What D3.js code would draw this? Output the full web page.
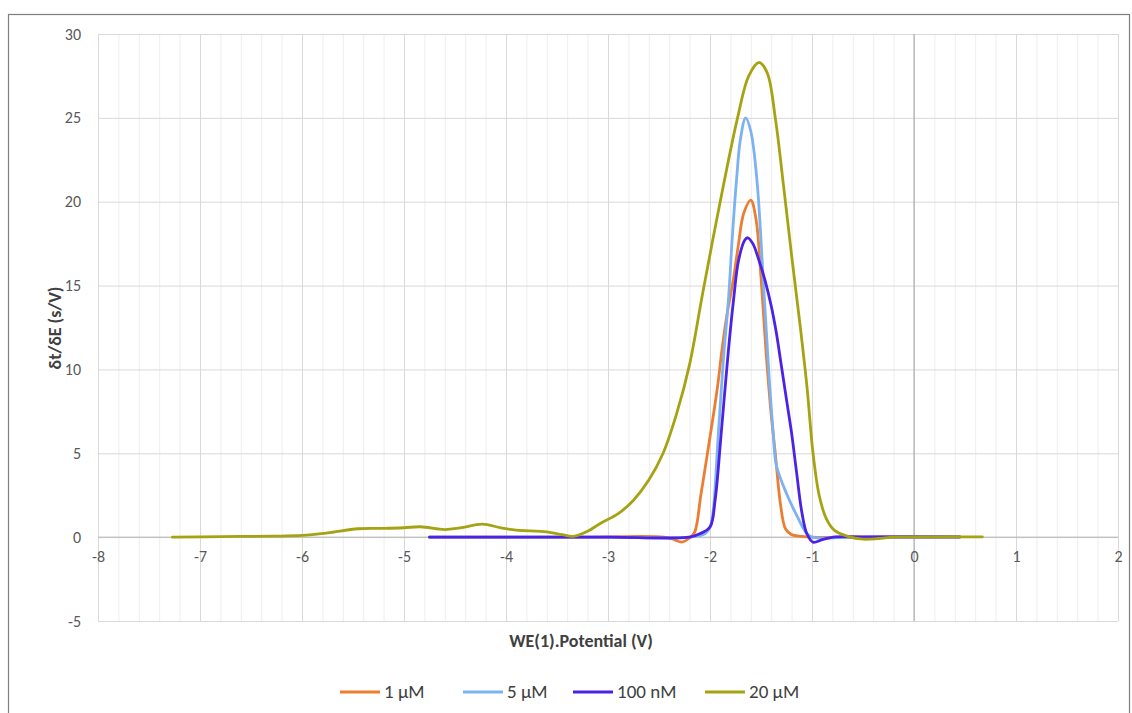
<!DOCTYPE html>
<html>
<head>
<meta charset="utf-8">
<script src="https://cdn.jsdelivr.net/npm/d3@7"></script>
<style>
  html, body { margin: 0; padding: 0; background: #fff; }
  svg { display: block; font-family: Carlito, Calibri, Lato, "Open Sans", sans-serif; }
</style>
</head>
<body>
<svg id="chart" width="1132" height="713"></svg>
<script>
// Derivative curves dt/dE versus working-electrode potential

const seriesNames = ["1 µM", "5 µM", "100 nM", "20 µM"];
const seriesColors = ["#ED7D31", "#7DB2F2", "#4B22E6", "#A6A313"];

const xTicks = [-8, -7, -6, -5, -4, -3, -2, -1, 0, 1, 2];
const yTicks = [-5, 0, 5, 10, 15, 20, 25, 30];

// 1 µM
const potential1uM = [-4.75, -4.0, -3.2, -2.45, -2.35, -2.28, -2.2, -2.15, -2.09, -2.03, -1.93, -1.88, -1.83, -1.77, -1.72, -1.67, -1.6, -1.55, -1.5, -1.45, -1.4, -1.36, -1.31, -1.26, -1.2, -1.1, -1.0, -0.5, 0.45];
const dtdE1uM      = [0, 0, 0, 0, -0.15, -0.3, -0.05, 0.3, 2.5, 4.8, 8.8, 11.3, 13.4, 15.4, 17.5, 19.3, 20.1, 19.0, 15.5, 11.0, 7.3, 5.0, 2.0, 0.5, 0.15, 0.05, 0, 0, 0];

// 5 µM
const potential5uM = [-4.75, -4.0, -3.0, -2.2, -2.05, -2.0, -1.97, -1.92, -1.87, -1.82, -1.78, -1.74, -1.7, -1.65, -1.6, -1.54, -1.47, -1.42, -1.38, -1.35, -1.25, -1.15, -1.05, -1.0, -0.5, 0.45];
const dtdE5uM      = [0, 0, 0, 0, 0.2, 0.6, 1.5, 6.0, 10.5, 14.1, 18.0, 21.3, 23.8, 25.0, 24.2, 21.3, 14.5, 9.5, 6.2, 4.3, 2.6, 1.3, 0.2, 0, 0, 0];

// 100 nM
const potential100nM = [-4.75, -4.0, -3.0, -2.4, -2.2, -2.1, -2.0, -1.95, -1.89, -1.82, -1.77, -1.72, -1.66, -1.63, -1.58, -1.52, -1.46, -1.4, -1.35, -1.3, -1.25, -1.2, -1.15, -1.1, -1.05, -0.99, -0.9, -0.79, -0.5, 0.45];
const dtdE100nM      = [0, 0, 0, -0.05, 0, 0.2, 0.6, 2.2, 6.2, 11.1, 14.1, 16.5, 17.7, 17.85, 17.5, 16.5, 15.3, 13.8, 12.2, 10.2, 8.2, 6.2, 3.8, 1.5, 0.2, -0.3, -0.15, 0, 0.02, 0.02];

// 20 µM
const potential20uM = [-7.27, -6.8, -6.3, -6.0, -5.75, -5.45, -5.2, -5.0, -4.84, -4.6, -4.45, -4.23, -4.05, -3.9, -3.6, -3.45, -3.34, -3.2, -3.08, -2.9, -2.75, -2.6, -2.46, -2.33, -2.2, -2.07, -1.9, -1.73, -1.62, -1.52, -1.44, -1.36, -1.28, -1.2, -1.12, -1.05, -0.99, -0.93, -0.86, -0.78, -0.65, -0.5, -0.35, -0.2, 0.0, 0.3, 0.67];
const dtdE20uM      = [0, 0.03, 0.06, 0.1, 0.25, 0.5, 0.52, 0.56, 0.62, 0.45, 0.55, 0.78, 0.55, 0.42, 0.32, 0.15, 0.05, 0.35, 0.8, 1.4, 2.2, 3.4, 5.0, 7.3, 10.3, 14.6, 20.0, 25.0, 27.5, 28.3, 27.7, 25.0, 21.0, 16.8, 12.8, 9.0, 5.0, 2.5, 1.1, 0.4, 0.05, -0.12, -0.08, 0, 0.02, 0.02, 0.02];

const seriesX = [potential1uM, potential5uM, potential100nM, potential20uM];
const seriesY = [dtdE1uM, dtdE5uM, dtdE100nM, dtdE20uM];

const FONT = "Carlito, Calibri, Lato, 'Open Sans', sans-serif";
const svg = d3.select("#chart");

// chart frame
svg.append("rect")
  .attr("x", 8.5).attr("y", 14.5)
  .attr("width", 1121).attr("height", 720)
  .attr("fill", "#fff").attr("stroke", "#7f7f7f").attr("stroke-width", 1.2);

const plot = { left: 98, right: 1118, top: 34, bottom: 621 };
const x = d3.scaleLinear().domain([-8, 2]).range([plot.left, plot.right]);
const y = d3.scaleLinear().domain([-5, 30]).range([plot.bottom, plot.top]);

// minor vertical gridlines every 0.2 V
const minorTicks = d3.range(-80, 21, 2).map(d => d / 10).filter(d => !xTicks.includes(d));
svg.append("g")
  .attr("transform", `translate(0,${plot.bottom})`)
  .call(d3.axisBottom(x).tickValues(minorTicks).tickSize(-(plot.bottom - plot.top)).tickFormat(""))
  .call(g => g.select(".domain").remove())
  .call(g => g.selectAll("line").attr("stroke", "#eeeeee").attr("stroke-width", 1));

// major gridlines
svg.append("g")
  .attr("transform", `translate(0,${plot.bottom})`)
  .call(d3.axisBottom(x).tickValues(xTicks).tickSize(-(plot.bottom - plot.top)).tickFormat(""))
  .call(g => g.select(".domain").remove())
  .call(g => g.selectAll("line").attr("stroke", "#d9d9d9").attr("stroke-width", 1));

svg.append("g")
  .attr("transform", `translate(${plot.left},0)`)
  .call(d3.axisLeft(y).tickValues(yTicks).tickSize(-(plot.right - plot.left)).tickFormat(""))
  .call(g => g.select(".domain").remove())
  .call(g => g.selectAll("line").attr("stroke", "#d9d9d9").attr("stroke-width", 1));

// axis lines crossing at zero
svg.append("line")
  .attr("x1", plot.left).attr("x2", plot.right)
  .attr("y1", y(0)).attr("y2", y(0))
  .attr("stroke", "#b3b3b3").attr("stroke-width", 1);
svg.append("line")
  .attr("x1", x(0)).attr("x2", x(0))
  .attr("y1", plot.top).attr("y2", plot.bottom)
  .attr("stroke", "#a6a6a6").attr("stroke-width", 1);

const plainNumber = d => String(d);

// y tick labels
svg.append("g")
  .attr("transform", `translate(${plot.left},0)`)
  .call(d3.axisLeft(y).tickValues(yTicks).tickSize(0).tickPadding(17).tickFormat(plainNumber))
  .call(g => g.select(".domain").remove())
  .call(g => g.selectAll("text").attr("fill", "#595959").attr("font-size", 16).style("font-family", FONT));

// x tick labels sit just under the zero line
svg.append("g")
  .attr("transform", `translate(0,${y(0)})`)
  .call(d3.axisBottom(x).tickValues(xTicks).tickSize(0).tickPadding(13).tickFormat(plainNumber))
  .call(g => g.select(".domain").remove())
  .call(g => g.selectAll("text").attr("fill", "#595959").attr("font-size", 16).style("font-family", FONT));

// series
const line = d3.line()
  .x(d => x(d[0]))
  .y(d => y(d[1]))
  .curve(d3.curveCatmullRom.alpha(0.5));

seriesNames.forEach((name, i) => {
  const pts = seriesX[i].map((v, j) => [v, seriesY[i][j]]);
  svg.append("path")
    .datum(pts)
    .attr("d", line)
    .attr("fill", "none")
    .attr("stroke", seriesColors[i])
    .attr("stroke-width", 2.8)
    .attr("stroke-linejoin", "round")
    .attr("stroke-linecap", "round");
});

// axis titles
svg.append("text")
  .attr("x", 581).attr("y", 647)
  .attr("text-anchor", "middle")
  .attr("font-size", 18).attr("font-weight", "bold").attr("fill", "#404040")
  .text("WE(1).Potential (V)");

svg.append("text")
  .attr("transform", `translate(61,328) rotate(-90)`)
  .attr("text-anchor", "middle")
  .attr("font-size", 18).attr("font-weight", "bold").attr("fill", "#404040")
  .text("δt/δE (s/V)");

// legend
const legendX = [340, 463, 573, 705];
const legendY = 692;
const legend = svg.append("g");
seriesNames.forEach((name, i) => {
  legend.append("line")
    .attr("x1", legendX[i]).attr("x2", legendX[i] + 40)
    .attr("y1", legendY).attr("y2", legendY)
    .attr("stroke", seriesColors[i]).attr("stroke-width", 2.8);
  legend.append("text")
    .attr("x", legendX[i] + 44).attr("y", legendY + 6)
    .attr("font-size", 19).attr("fill", "#404040")
    .style("font-family", FONT)
    .text(name);
});
</script>
</body>
</html>
